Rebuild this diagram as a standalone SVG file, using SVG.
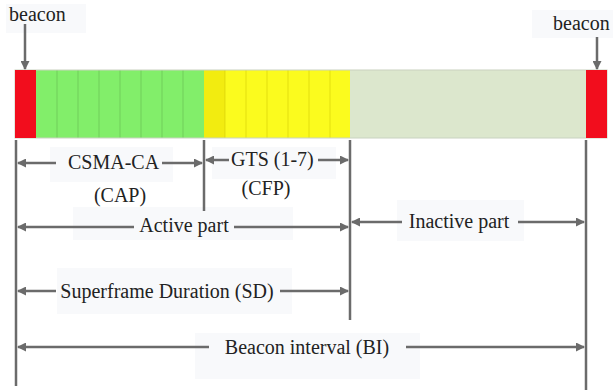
<svg xmlns="http://www.w3.org/2000/svg" width="613" height="390" viewBox="0 0 613 390">
<defs>
<marker id="ah" markerWidth="9" markerHeight="9" refX="8" refY="4.5" orient="auto-start-reverse" markerUnits="userSpaceOnUse">
<path d="M0,0 L9,4.5 L0,9 Z" fill="#6b6b6b"/>
</marker>
</defs>
<style>
text{font-family:"Liberation Serif","Times New Roman",serif;fill:#222;font-size:20px}
.bg{fill:#f8f9fb}
.ln{stroke:#6b6b6b;stroke-width:2.5;fill:none}
.ar{stroke:#6b6b6b;stroke-width:2.5;fill:none;marker-end:url(#ah)}
.sl{stroke:#5faa4a;stroke-width:0.8;stroke-opacity:0.6}
.sy{stroke:#c8c000;stroke-width:0.8;stroke-opacity:0.6}
</style>
<rect width="613" height="390" fill="#ffffff"/>

<g id="bar">
<rect x="36" y="70" width="168" height="68" fill="#82ee6a"/>
<rect x="204" y="70" width="146" height="68" fill="#fbfb1e"/>
<rect x="204" y="70" width="21" height="68" fill="#f2ec10"/>
<rect x="350" y="70" width="236" height="68" fill="#dce7cd"/>
<g class="sl">
<line x1="57" y1="70" x2="57" y2="138"/><line x1="78" y1="70" x2="78" y2="138"/><line x1="99" y1="70" x2="99" y2="138"/><line x1="120" y1="70" x2="120" y2="138"/><line x1="141" y1="70" x2="141" y2="138"/><line x1="162" y1="70" x2="162" y2="138"/><line x1="183" y1="70" x2="183" y2="138"/>
</g>
<g class="sy">
<line x1="225" y1="70" x2="225" y2="138"/><line x1="246" y1="70" x2="246" y2="138"/><line x1="267" y1="70" x2="267" y2="138"/><line x1="288" y1="70" x2="288" y2="138"/><line x1="309" y1="70" x2="309" y2="138"/><line x1="330" y1="70" x2="330" y2="138"/>
</g>
<rect x="15" y="70" width="592" height="68" fill="none" stroke="#c9d2c0" stroke-width="1"/>
</g>
<g id="beacon-left">
<rect x="15" y="70" width="21" height="68" fill="#f20d1d"/>
<rect class="bg" x="6" y="4" width="80" height="29"/>
<text x="9" y="21">beacon</text>
</g>
<g id="beacon-right">
<rect x="586" y="70" width="21" height="68" fill="#f20d1d"/>
<rect class="bg" x="532" y="10" width="81" height="28"/>
<text x="553" y="30">beacon</text>
</g>

<g id="labels">
<rect class="bg" x="50" y="147" width="123" height="35"/>
<text x="68" y="169">CSMA-CA</text>
<text x="120" y="202" text-anchor="middle">(CAP)</text>
<rect class="bg" x="212" y="147" width="124" height="32"/>
<text x="231" y="166">GTS (1-7)</text>
<text x="266" y="195" text-anchor="middle">(CFP)</text>
<rect class="bg" x="73" y="207" width="220" height="33"/>
<text x="184" y="232" text-anchor="middle">Active part</text>
<rect class="bg" x="397" y="200" width="127" height="41"/>
<text x="459" y="228" text-anchor="middle">Inactive part</text>
<rect class="bg" x="57" y="268" width="235" height="46"/>
<text x="167" y="298" text-anchor="middle">Superframe Duration (SD)</text>
<rect class="bg" x="195" y="333" width="225" height="46"/>
<text x="307" y="354" text-anchor="middle">Beacon interval (BI)</text>
</g>

<g id="connectors">
<line class="ar" x1="25" y1="24" x2="25" y2="69"/>
<line class="ar" x1="597" y1="37" x2="597" y2="69"/>
<line class="ln" x1="16" y1="140" x2="16" y2="386"/>
<line class="ln" x1="204" y1="140" x2="204" y2="211"/>
<line class="ln" x1="350" y1="140" x2="350" y2="320"/>
<line class="ln" x1="586" y1="140" x2="586" y2="390"/>
<line class="ar" x1="56" y1="163" x2="18" y2="163"/>
<line class="ar" x1="162" y1="163" x2="202" y2="163"/>
<line class="ar" x1="229" y1="160" x2="206" y2="160"/>
<line class="ar" x1="318" y1="160" x2="348" y2="160"/>
<line class="ar" x1="134" y1="227" x2="18" y2="227"/>
<line class="ar" x1="234" y1="227" x2="348" y2="227"/>
<line class="ar" x1="402" y1="222" x2="352" y2="222"/>
<line class="ar" x1="518" y1="222" x2="584" y2="222"/>
<line class="ar" x1="56" y1="291" x2="18" y2="291"/>
<line class="ar" x1="280" y1="291" x2="348" y2="291"/>
<line class="ar" x1="209" y1="347" x2="18" y2="347"/>
<line class="ar" x1="406" y1="347" x2="584" y2="347"/>
</g>
</svg>
